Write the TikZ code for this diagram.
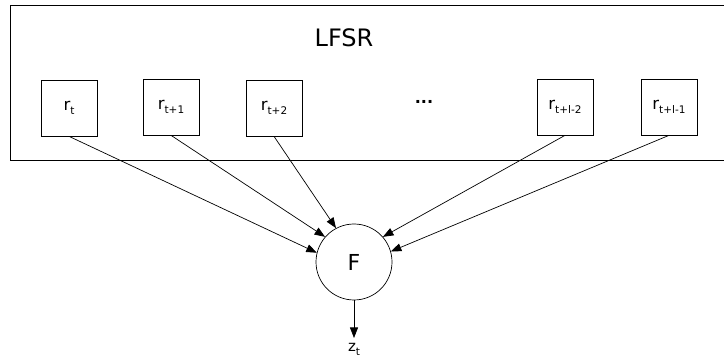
\documentclass[tikz,border=0pt]{standalone}
\usepackage{fontspec}
\setmainfont{DejaVu Sans}
\usetikzlibrary{arrows.meta}

% register label: letter with a lowered small index
\newcommand\reglabel[2]{#1\raisebox{-4pt}{\fontsize{10.5}{10.5}\selectfont #2}}

\tikzset{
  wire/.style={line width=0.7pt, -{Triangle[length=10.5pt,width=8pt]}},
  cell/.style={draw, line width=0.7pt, minimum width=56pt, minimum height=56pt,
               inner sep=0pt, font=\fontsize{16.5}{16.5}\selectfont},
  func/.style={draw, circle, line width=0.7pt, minimum size=76pt, inner sep=0pt,
               font=\fontsize{22}{22}\selectfont},
}

\begin{document}
\begin{tikzpicture}[x=1pt, y=-1pt]
  \useasboundingbox (0,0) rectangle (724,358);

  % shift register enclosure
  \draw[line width=0.7pt] (10,5) rectangle (726,160);
  \node[font=\fontsize{24}{24}\selectfont] (title) at (344,38) {LFSR};

  % register cells
  \node[cell] (r0) at (69,108)  {\reglabel{r}{t}};
  \node[cell] (r1) at (171,107) {\reglabel{r}{t+1}};
  \node[cell] (r2) at (274,108) {\reglabel{r}{t+2}};
  \node[font=\bfseries\fontsize{16}{16}\selectfont] (dots) at (424,102) {...};
  \node[cell] (r3) at (565,107) {\reglabel{r}{t+l-2}};
  \node[cell] (r4) at (669,107) {\reglabel{r}{t+l-1}};

  % filter function
  \node[func] (F) at (354,262) {F};
  \node[font=\fontsize{15}{15}\selectfont, inner xsep=0pt, inner ysep=5pt, anchor=north] (z) at (354,338) {\reglabel{z}{t}};

  % taps into the filter
  \draw[wire] (r0.south) -- (F.166);
  \draw[wire] (r1.south) -- (F.139);
  \draw[wire] (r2.south) -- (F.118);
  \draw[wire] (r3.south) -- (F.41);
  \draw[wire] (r4.south) -- (F.16);

  % keystream output
  \draw[wire] (F.south) -- (z.north);
\end{tikzpicture}
\end{document}
